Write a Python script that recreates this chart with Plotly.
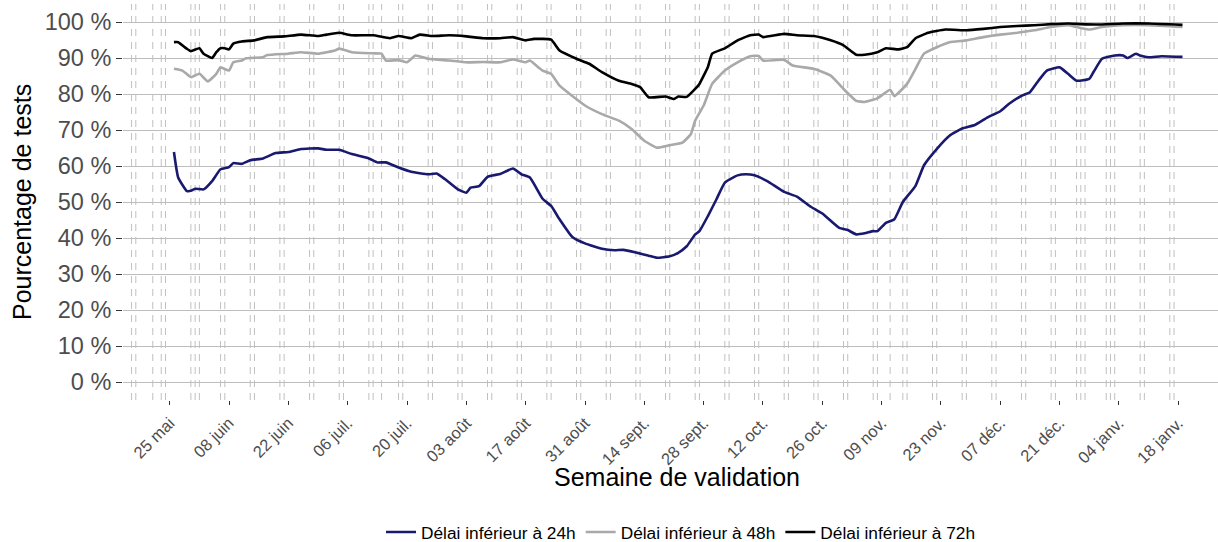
import pandas as pd
import plotly.graph_objects as go

# ---------------- data ----------------
DATE_ORIGINE = "2020-05-25"   # readings are stored as days since this date

jours_24h = [1,2,4,5,6,8,10,12,14,15,17,19,22,25,28,31,35,37,40,43,47,49,51,54,57,61,63,65,68,70,
             71,73,75,78,81,83,85,88,90,92,95,98,102,105,107,110,113,115,118,120,122,124,125,127,129,
             131,134,136,138,141,145,148,151,154,158,160,162,164,166,167,169,171,173,176,178,181,184,
             187,190,193,196,198,201,203,205,207,210,212,214,217,218,220,223,225,226,228,229,231,234,239]
val_24h = [63.9,56.8,53.1,53.1,53.7,53.5,55.8,59.1,59.7,60.8,60.6,61.6,62.1,63.6,63.9,64.7,64.9,64.5,64.5,63.3,
           62.1,61.0,61.0,59.6,58.4,57.7,57.9,56.3,53.5,52.6,54.0,54.4,57.0,57.8,59.3,57.7,56.8,50.9,48.9,45.2,
           40.3,38.5,37.0,36.6,36.7,36.0,35.1,34.5,34.9,35.9,37.7,41.0,41.9,46.1,50.7,55.4,57.4,57.7,57.4,55.8,
           52.8,51.5,48.9,46.8,42.8,42.2,41.0,41.3,41.9,41.9,44.2,45.2,50.0,54.5,60.2,64.7,68.4,70.4,71.4,73.5,
           75.2,77.2,79.5,80.5,83.7,86.5,87.4,85.6,83.7,84.2,86.1,89.8,90.7,90.7,90.0,91.2,90.7,90.2,90.5,90.3]

jours_48h = [1,3,5,7,9,11,12,14,15,17,18,22,23,28,31,35,39,40,43,48,50,51,54,56,58,61,66,70,74,78,
             81,84,85,87,88,90,92,98,102,106,109,112,115,118,121,123,124,126,128,131,134,137,139,140,
             145,147,152,156,159,162,164,167,170,171,174,176,178,181,184,188,192,196,200,204,208,212,
             214,217,220,225,231,239]
val_48h = [87.0,86.5,84.7,85.6,83.5,85.6,87.4,86.5,88.8,89.3,89.9,90.2,90.8,91.2,91.6,91.2,92.1,92.6,91.6,91.3,
           91.2,89.3,89.4,88.8,90.7,89.8,89.3,88.8,88.9,88.8,89.6,88.8,89.3,87.4,86.5,85.6,82.3,76.8,74.4,72.6,
           70.3,67.0,65.1,65.8,66.5,68.9,72.6,76.8,82.8,86.5,88.8,90.5,90.6,89.3,89.5,87.9,87.0,85.1,81.4,78.1,
           77.8,78.8,81.2,79.4,82.8,87.0,91.2,93.0,94.4,94.9,95.8,96.5,97.0,97.7,98.6,99.1,98.6,97.9,98.6,99.1,
           99.1,98.6]

jours_72h = [1,2,4,5,7,8,10,11,12,13,14,15,17,20,23,27,31,35,37,40,43,48,52,54,57,59,62,66,70,74,
             78,81,84,86,90,92,96,99,102,106,109,111,113,117,119,120,122,124,125,127,128,131,134,137,
             139,140,145,148,152,156,159,162,164,167,169,172,174,176,179,183,188,192,196,200,204,208,
             212,215,219,225,231,239]
val_72h = [94.4,94.4,92.6,91.9,92.7,91.2,90.0,91.6,92.7,92.7,92.4,94.0,94.6,94.9,95.8,96.0,96.5,96.1,96.5,97.0,
           96.3,96.3,95.5,96.1,95.5,96.5,96.1,96.3,96.0,95.5,95.5,95.8,94.9,95.3,95.1,92.1,89.8,88.4,86.1,83.7,
           82.8,81.9,79.1,79.3,78.6,79.3,79.2,81.4,82.8,87.5,91.2,92.7,94.9,96.3,96.5,95.8,96.7,96.3,96.1,94.9,
           93.5,90.9,90.9,91.6,92.7,92.4,93.0,95.5,97.0,97.9,97.7,98.1,98.6,98.9,99.1,99.4,99.6,99.4,99.3,99.6,
           99.6,99.2]

series_noms = ["Délai inférieur à 24h", "Délai inférieur à 48h", "Délai inférieur à 72h"]
series_couleurs = ["#191970", "#a9a9a9", "#000000"]

# non-working days (weekends + public holidays) shown as dashed vertical lines
debut_weekends = "2020-05-16"
fin_weekends = "2021-01-17"
jours_feries = ["2020-05-21", "2020-06-01", "2020-07-14", "2020-08-15",
                "2020-11-01", "2020-11-11", "2020-12-25", "2021-01-01"]

tick_dates = ["2020-05-25","2020-06-08","2020-06-22","2020-07-06","2020-07-20","2020-08-03",
              "2020-08-17","2020-08-31","2020-09-14","2020-09-28","2020-10-12","2020-10-26",
              "2020-11-09","2020-11-23","2020-12-07","2020-12-21","2021-01-04","2021-01-18"]
tick_labels = ["25 mai","08 juin","22 juin","06 juil.","20 juil.","03 août","17 août","31 août",
               "14 sept.","28 sept.","12 oct.","26 oct.","09 nov.","23 nov.","07 déc.","21 déc.",
               "04 janv.","18 janv."]
y_ticks = [0,10,20,30,40,50,60,70,80,90,100]
y_labels = [f"{v} %" for v in y_ticks]

# ---------------- figure ----------------
origine = pd.Timestamp(DATE_ORIGINE)
def to_dates(jours):
    return [origine + pd.Timedelta(days=j) for j in jours]

fig = go.Figure()
for jours, vals, nom, coul in zip([jours_24h, jours_48h, jours_72h],
                                  [val_24h, val_48h, val_72h],
                                  series_noms, series_couleurs):
    fig.add_trace(go.Scatter(x=to_dates(jours), y=vals, mode="lines", name=nom,
                             line=dict(color=coul, width=2.6, shape="spline", smoothing=0.4)))

tous_jours = pd.date_range(debut_weekends, fin_weekends, freq="D")
non_ouvres = sorted(set([d for d in tous_jours if d.dayofweek >= 5] +
                        [pd.Timestamp(d) for d in jours_feries]))
for d in non_ouvres:
    fig.add_shape(type="line", xref="x", yref="paper", x0=d, x1=d, y0=0, y1=1,
                  layer="between", line=dict(color="#c0c0c0", width=1, dash="7px,6px"))

FONT = "Liberation Sans, Arial, sans-serif"
fig.update_layout(
    width=1218, height=542,
    margin=dict(l=123, r=0, t=4, b=142, autoexpand=False),
    paper_bgcolor="white", plot_bgcolor="white",
    font=dict(family=FONT, color="#000000"),
    showlegend=True,
    legend=dict(orientation="h", x=(681 - 123) / 1095, xanchor="center", y=-0.334, yanchor="middle",
                font=dict(size=17.3, color="#000000"), itemwidth=30, bgcolor="rgba(0,0,0,0)"),
    xaxis=dict(type="date", range=["2020-05-13 23:30", "2021-01-27 09:00"], automargin=False,
               tickvals=tick_dates, ticktext=tick_labels, tickangle=-45,
               showgrid=False, zeroline=False, showline=False,
               ticks="outside", ticklen=4, tickwidth=1, tickcolor="#333333",
               ticklabelstandoff=2,
               tickfont=dict(size=16.5, color="#4d4d4d", family=FONT)),
    yaxis=dict(range=[-5, 105], tickvals=y_ticks, ticktext=y_labels, automargin=False,
               showgrid=True, gridcolor="#bdbdbd", gridwidth=1.3, zeroline=False, showline=False,
               ticks="outside", ticklen=6, tickwidth=1, tickcolor="#333333",
               tickfont=dict(size=23.5, color="#4d4d4d", family=FONT)),
    annotations=[
        dict(text="Semaine de validation", xref="paper", yref="paper",
             x=(677 - 123) / 1095, y=(400 - 477) / 396, xanchor="center", yanchor="middle",
             showarrow=False, font=dict(size=25, color="#000000", family=FONT)),
        dict(text="Pourcentage de tests", xref="paper", yref="paper",
             x=(22 - 123) / 1095, y=0.5, xanchor="center", yanchor="middle", textangle=-90,
             showarrow=False, font=dict(size=25, color="#000000", family=FONT)),
    ],
)

fig.write_html("out.html", config={"displayModeBar": False},
               post_script="document.body.style.margin='0';document.body.style.overflow='hidden';")
